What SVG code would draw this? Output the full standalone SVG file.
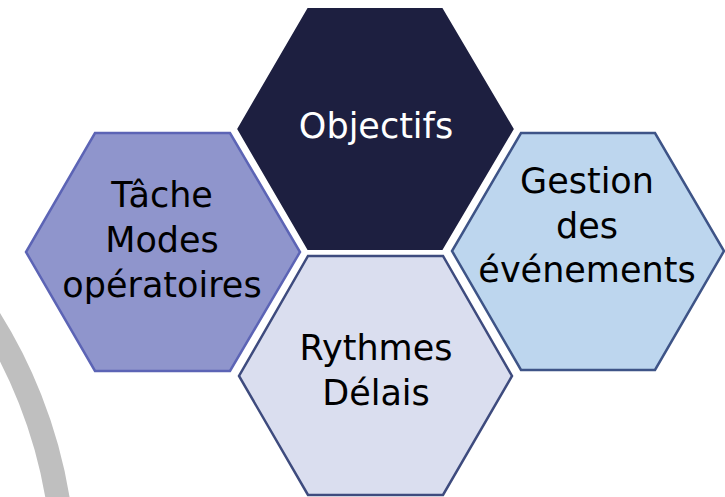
<svg xmlns="http://www.w3.org/2000/svg" width="725" height="497" viewBox="0 0 725 497">
<style>
.t{font-family:"DejaVu Sans","Liberation Sans",sans-serif;font-size:35px;text-anchor:middle;fill:#000}
.w{fill:#fff}
</style>
<rect width="725" height="497" fill="#fff"/>
<g id="arc">
<circle cx="-420" cy="577" r="484" fill="none" stroke="#bfbfbf" stroke-width="24"/>
</g>
<g id="objectifs">
<polygon points="307,7 443,7 515,129 443,251 307,251 236,129" fill="#1d1f40" stroke="#fff" stroke-width="2"/>
<text class="t w" x="376" y="138">Objectifs</text>
</g>
<g id="tache">
<polygon points="95,133 230,133 300,252 230,371 95,371 26,252" fill="#8f95cc" stroke="#5c64b5" stroke-width="2.5"/>
<text class="t" x="162" y="207">Tâche</text>
<text class="t" x="162" y="252">Modes</text>
<text class="t" x="162" y="297">opératoires</text>
</g>
<g id="gestion">
<polygon points="521,133 655,133 724,251 655,370 521,370 452,251" fill="#bdd6ee" stroke="#3e5487" stroke-width="2.5"/>
<text class="t" x="587" y="193">Gestion</text>
<text class="t" x="587" y="238">des</text>
<text class="t" x="587" y="282">événements</text>
</g>
<g id="rythmes">
<polygon points="308,256 443,256 512,376 443,495 308,495 239,376" fill="#dadeef" stroke="#3e4b7e" stroke-width="2.5"/>
<text class="t" x="376" y="360">Rythmes</text>
<text class="t" x="376" y="405">Délais</text>
</g>
<g id="connectors"/>
</svg>
